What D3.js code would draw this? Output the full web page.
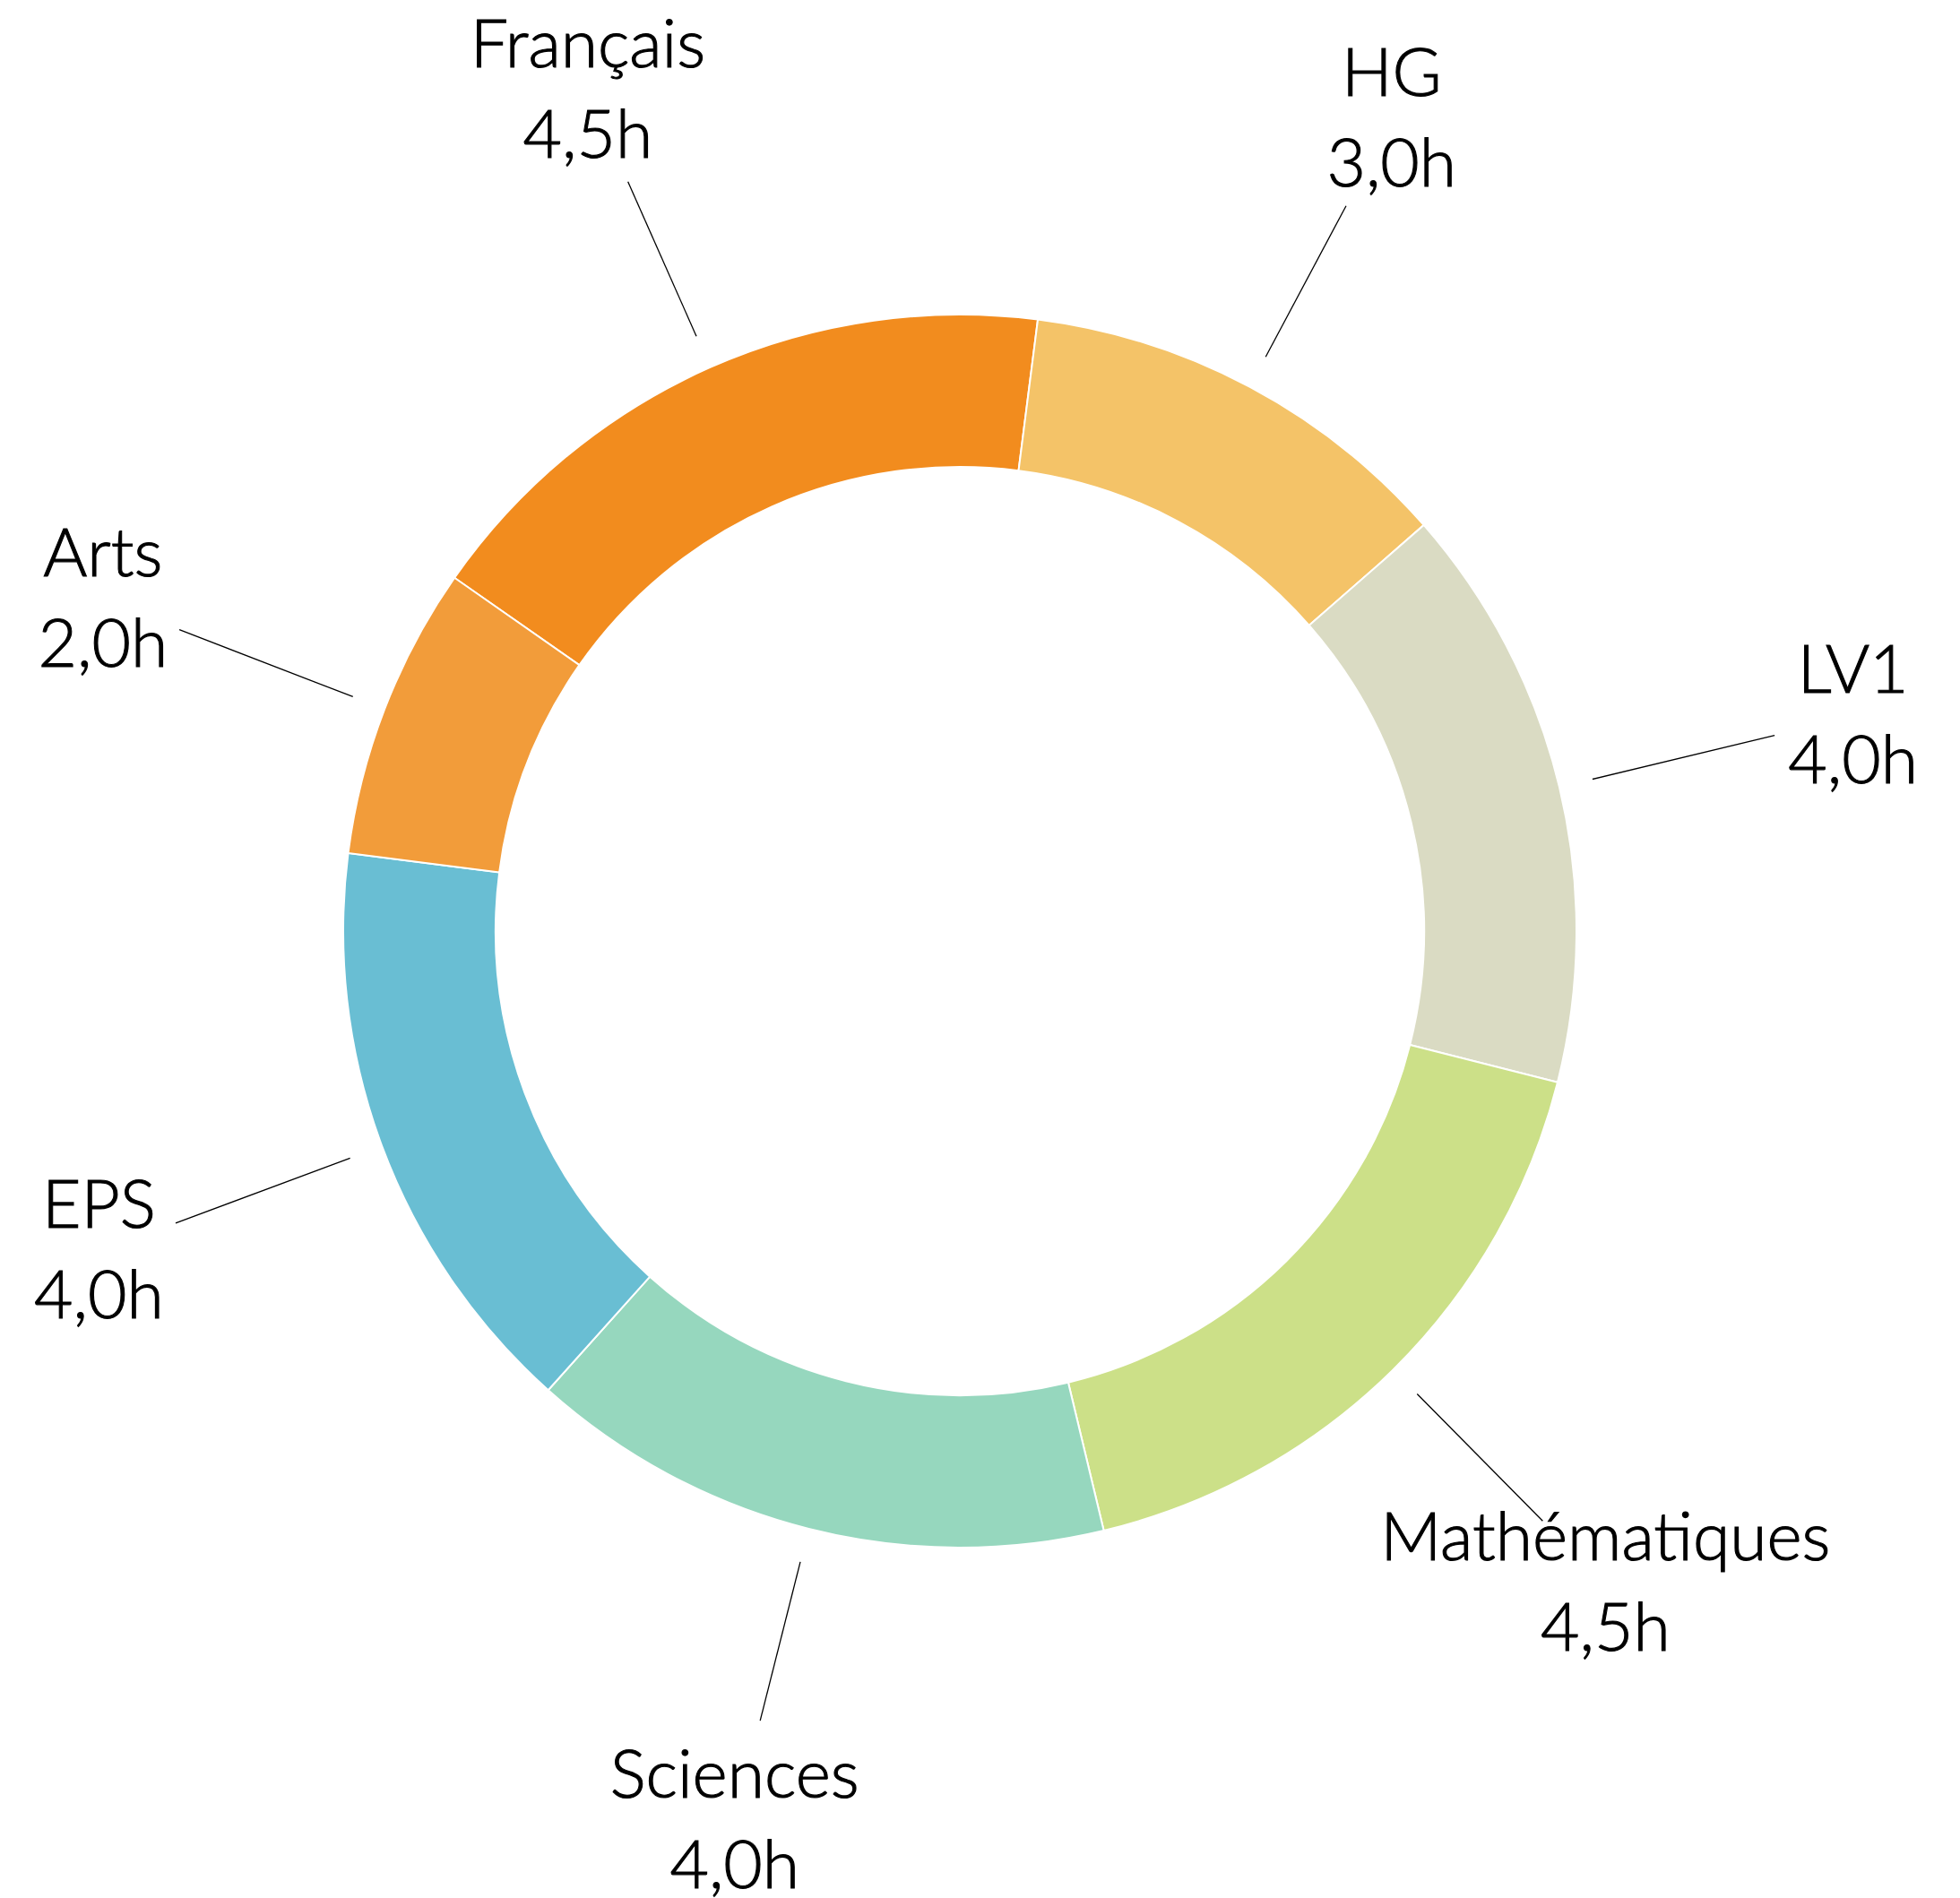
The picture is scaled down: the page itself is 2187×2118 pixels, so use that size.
<!DOCTYPE html>
<html>
<head>
<meta charset="utf-8">
<script src="https://cdn.jsdelivr.net/npm/d3@7"></script>
<style>
  body { margin: 0; background: #fff; }
  text { font-family: Lato, "Open Sans", sans-serif; font-size: 75px; font-weight: 300; fill: #000; stroke: #000; stroke-width: 1.1px; }
</style>
</head>
<body>
<script>
// heures par matière
var subjects = ['Français', 'HG', 'LV1', 'Mathématiques', 'Sciences', 'EPS', 'Arts']
var hours = [4.5, 3.0, 4.0, 4.5, 4.0, 4.0, 2.0]
var colors = ['#f28c1e', '#f4c368', '#dadbc3', '#cce088', '#96d7be', '#69bed3', '#f29c3a']

var width = 2187,
    height = 2118,
    cx = 1071,
    cy = 1039,
    outer = 688,
    inner = 518,
    label_r = 1025,
    start = -55.04 * Math.PI / 180

var fr = d3.formatLocale({ decimal: ',', thousands: ' ', grouping: [3], currency: ['', ' €'] })
var fmt = fr.format('.1f')

var data = subjects.map(function(s, i) { return { name: s, value: hours[i], color: colors[i] } })

var svg = d3.select('body').append('svg')
  .attr('width', width)
  .attr('height', height)
  .append('g')
  .attr('transform', 'translate(' + cx + ',' + cy + ')')

var pie = d3.pie().sort(null).value(function(d) { return d.value })
  .startAngle(start).endAngle(start + 2 * Math.PI)
var arc = d3.arc().innerRadius(inner).outerRadius(outer)

var arcs = pie(data)

svg.selectAll('path.slice')
  .data(arcs)
  .enter().append('path')
  .attr('class', 'slice')
  .attr('d', arc)
  .style('fill', function(d) { return d.data.color })
  .style('stroke', '#fff')
  .style('stroke-width', 2)

function mid(d) { return (d.startAngle + d.endAngle) / 2 }

// traits de rappel
svg.selectAll('line.leader')
  .data(arcs)
  .enter().append('line')
  .attr('class', 'leader')
  .attr('x1', function(d) { return 726 * Math.sin(mid(d)) })
  .attr('y1', function(d) { return -726 * Math.cos(mid(d)) })
  .attr('x2', function(d) { var r = 900 + 36 * Math.abs(Math.sin(mid(d))); return r * Math.sin(mid(d)) })
  .attr('y2', function(d) { var r = 900 + 36 * Math.abs(Math.sin(mid(d))); return -r * Math.cos(mid(d)) })
  .style('stroke', '#000')
  .style('stroke-width', 1.3)

var labels = svg.selectAll('g.label')
  .data(arcs)
  .enter().append('g')
  .attr('class', 'label')
  .attr('transform', function(d) {
    return 'translate(' + (label_r * Math.sin(mid(d))) + ',' + (-label_r * Math.cos(mid(d))) + ')'
  })

labels.append('text')
  .attr('y', -27)
  .attr('text-anchor', 'middle')
  .text(function(d) { return d.data.name })

labels.append('text')
  .attr('y', 74)
  .attr('text-anchor', 'middle')
  .text(function(d) { return fmt(d.data.value) + 'h' })
</script>
</body>
</html>
